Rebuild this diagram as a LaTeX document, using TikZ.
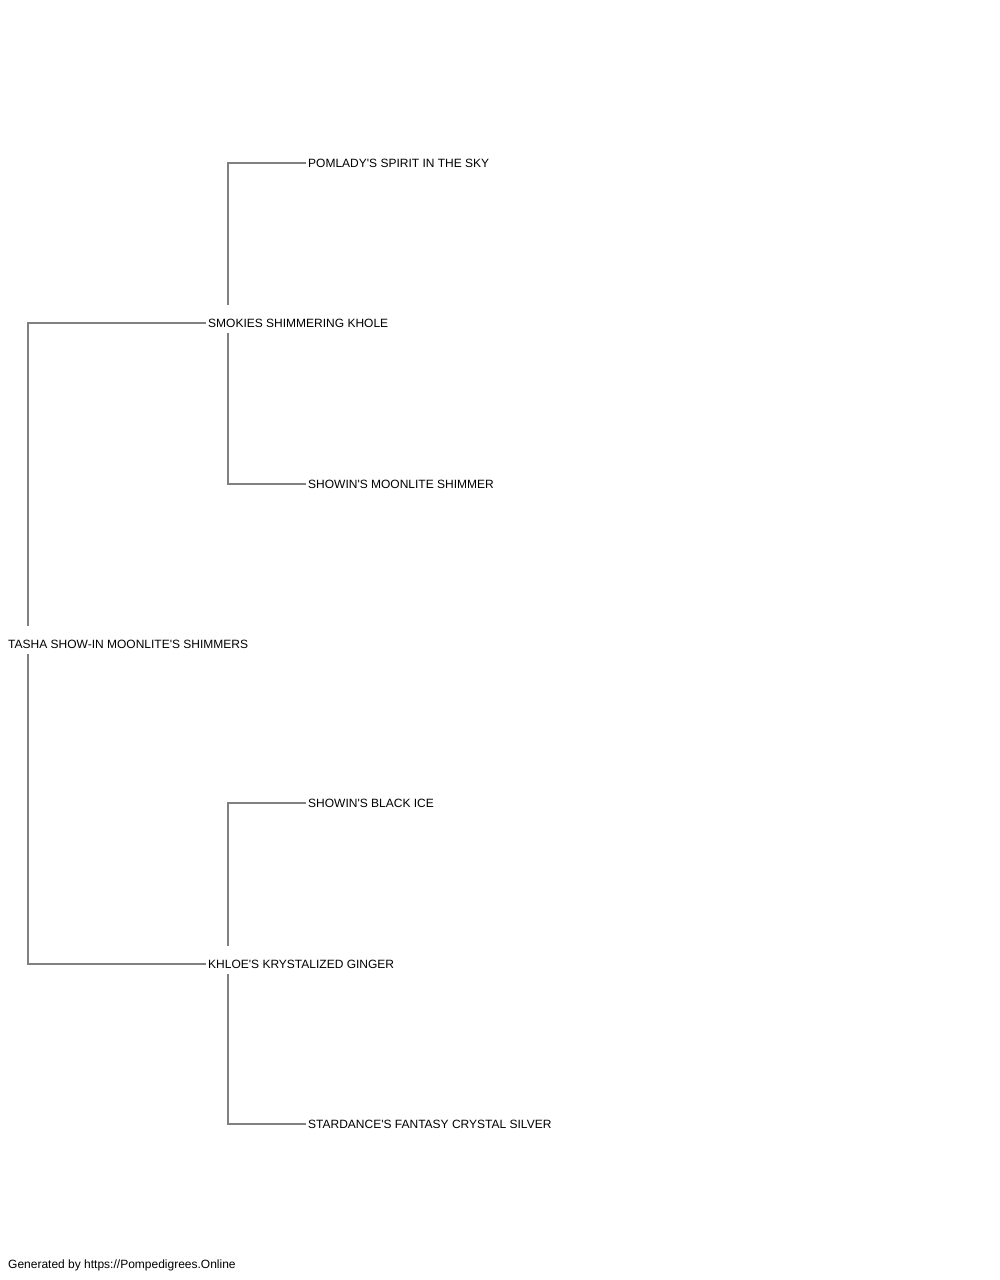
\documentclass[tikz,border=0pt]{standalone}
\usepackage{fontspec}
\setmainfont{Liberation Sans}[Ligatures=TeXOff]
\definecolor{linegray}{RGB}{128,128,128}
\begin{document}
\begin{tikzpicture}[x=1pt,y=-1pt,
  dogname/.style={anchor=west,inner xsep=2pt,inner ysep=0pt,text height=8.6pt,text depth=0pt,
    font=\fontsize{12}{14}\selectfont,text=black},
  link/.style={draw=linegray,line width=1.3pt},
  footer/.style={anchor=base west,inner sep=0pt,font=\fontsize{12}{14}\selectfont,text=black}]
\fill[white] (0,0) rectangle (1000,1280);
\useasboundingbox (0,0) rectangle (1000,1280);
% nodes
\node[dogname] (root) at (6,644) {TASHA SHOW-IN MOONLITE'S SHIMMERS};
\node[dogname] (sire) at (206,323) {SMOKIES SHIMMERING KHOLE};
\node[dogname] (dam)  at (206,964) {KHLOE'S KRYSTALIZED GINGER};
\node[dogname] (ss)   at (306,163) {POMLADY'S SPIRIT IN THE SKY};
\node[dogname] (sd)   at (306,484) {SHOWIN'S MOONLITE SHIMMER};
\node[dogname] (ds)   at (306,803) {SHOWIN'S BLACK ICE};
\node[dogname] (dd)   at (306,1124) {STARDANCE'S FANTASY CRYSTAL SILVER};
\node[footer] (foot) at (8,1268) {Generated by https://Pompedigrees.Online};
% connectors
\draw[link] ([xshift=22pt,yshift=18pt]root.west) |- (sire.west);
\draw[link] ([xshift=22pt,yshift=-10pt]root.west) |- (dam.west);
\draw[link] ([xshift=22pt,yshift=18pt]sire.west) |- (ss.west);
\draw[link] ([xshift=22pt,yshift=-10pt]sire.west) |- (sd.west);
\draw[link] ([xshift=22pt,yshift=18pt]dam.west) |- (ds.west);
\draw[link] ([xshift=22pt,yshift=-10pt]dam.west) |- (dd.west);
\end{tikzpicture}
\end{document}
